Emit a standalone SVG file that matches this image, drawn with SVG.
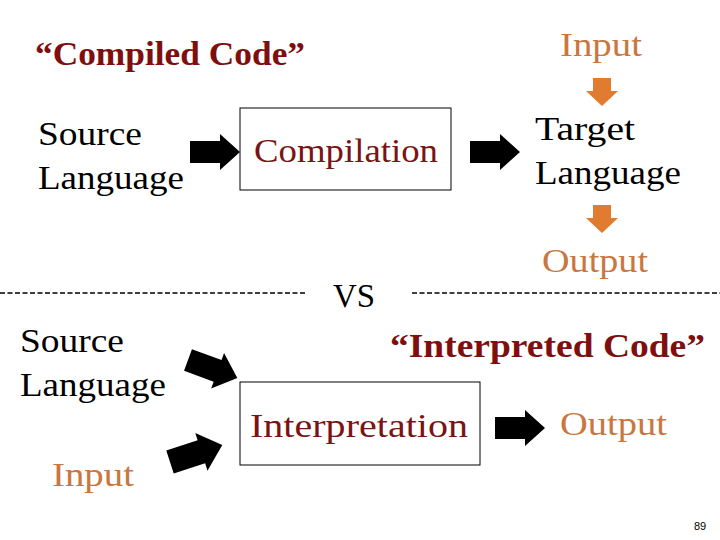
<svg xmlns="http://www.w3.org/2000/svg" width="720" height="540" viewBox="0 0 720 540">
<style>
text{font-family:"Liberation Serif","DejaVu Serif",serif}
.t{font-size:34px;fill:#000}
.r{font-size:34px;fill:#7a1414}
.o{font-size:34px;fill:#c9773f}
.h{font-size:34px;font-weight:bold;fill:#7f0f0f}
.box{fill:#fff;stroke:#000;stroke-width:1}
.dash{stroke:#000;stroke-width:1.5;stroke-dasharray:5 2.5}
</style>
<defs>
<path id="ba" d="M0,-11 H30 V-18 L50,0 L30,18 V11 H0 Z" fill="#000"/>
<path id="oa" d="M-9,0 H9 V13 H16 L0,28 L-16,13 H-9 Z" fill="#e07b30"/>
</defs>
<g id="title-compiled"><text class="h" x="35" y="65" textLength="270" lengthAdjust="spacingAndGlyphs">“Compiled Code”</text></g>
<g id="source-top"><text class="t" x="38" y="145" textLength="104" lengthAdjust="spacingAndGlyphs">Source</text><text class="t" x="38" y="189" textLength="146" lengthAdjust="spacingAndGlyphs">Language</text></g>
<g id="compilation"><rect class="box" x="240" y="108" width="211" height="82"/><text class="r" x="254" y="162" textLength="184" lengthAdjust="spacingAndGlyphs">Compilation</text></g>
<g id="target"><text class="t" x="535" y="140" textLength="100" lengthAdjust="spacingAndGlyphs">Target</text><text class="t" x="535" y="184" textLength="146" lengthAdjust="spacingAndGlyphs">Language</text></g>
<g id="input-top"><text class="o" x="560" y="56" textLength="82" lengthAdjust="spacingAndGlyphs">Input</text></g>
<g id="output-top"><text class="o" x="542" y="272" textLength="106" lengthAdjust="spacingAndGlyphs">Output</text></g>
<g id="vs"><text class="t" x="333" y="307" font-size="38" textLength="42" lengthAdjust="spacingAndGlyphs">VS</text></g>
<g id="title-interpreted"><text class="h" x="390" y="357" textLength="315" lengthAdjust="spacingAndGlyphs">“Interpreted Code”</text></g>
<g id="source-bottom"><text class="t" x="20" y="352" textLength="104" lengthAdjust="spacingAndGlyphs">Source</text><text class="t" x="20" y="396" textLength="146" lengthAdjust="spacingAndGlyphs">Language</text></g>
<g id="interpretation"><rect class="box" x="240" y="382" width="240" height="83"/><text class="r" x="250" y="437" textLength="218" lengthAdjust="spacingAndGlyphs">Interpretation</text></g>
<g id="output-bottom"><text class="o" x="560" y="435" textLength="107" lengthAdjust="spacingAndGlyphs">Output</text></g>
<g id="input-bottom"><text class="o" x="52" y="486" textLength="82" lengthAdjust="spacingAndGlyphs">Input</text></g>
<g id="connectors">
<line class="dash" x1="0" y1="293" x2="307" y2="293"/>
<line class="dash" x1="412" y1="293" x2="720" y2="293"/>
<use href="#ba" transform="translate(190,152)"/>
<use href="#ba" transform="translate(470,152)"/>
<use href="#ba" transform="translate(495,428)"/>
<use href="#ba" transform="translate(188,360) rotate(20) scale(1.05)"/>
<use href="#ba" transform="translate(170,462) rotate(-18) scale(1.1)"/>
<use href="#oa" transform="translate(602,78)"/>
<use href="#oa" transform="translate(602,205)"/>
</g>
<text x="694" y="530" font-size="11" style="font-family:'Liberation Sans',sans-serif">89</text>
</svg>
